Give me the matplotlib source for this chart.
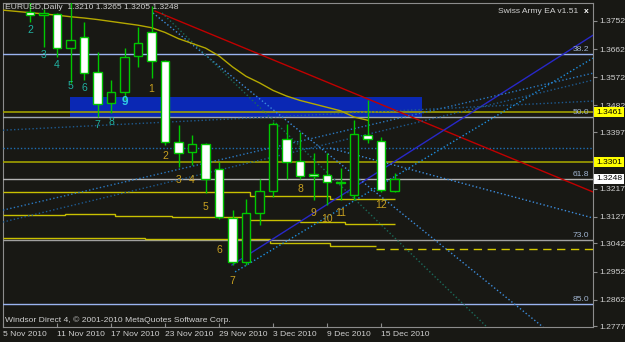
import numpy as np
import matplotlib.pyplot as plt
from matplotlib import transforms

plt.rcParams.update({
    "font.family": "Liberation Sans",
    "font.size": 6.1,
})

bg = "#181814"
frame = "#8c8c8c"
txt = "#d0d0d0"

# daily bars, index 0 = 5 Nov 2010 (weekdays only)
bars = list(range(2, 30))
opens = [1.3780, 1.3770, 1.3774, 1.3665, 1.3700, 1.3589, 1.3490, 1.3525, 1.3640, 1.3716,
         1.3624, 1.3365, 1.3334, 1.3359, 1.3279, 1.3123, 1.2983, 1.3139, 1.3209, 1.3375,
         1.3305, 1.3262, 1.3260, 1.3237, 1.3196, 1.3388, 1.3368, 1.3210]
highs = [1.3815, 1.3790, 1.3776, 1.3815, 1.3748, 1.3653, 1.3563, 1.3665, 1.3732, 1.3798,
         1.3626, 1.3420, 1.3388, 1.3362, 1.3302, 1.3148, 1.3183, 1.3248, 1.3429, 1.3423,
         1.3397, 1.3330, 1.3330, 1.3283, 1.3436, 1.3499, 1.3381, 1.3265]
lows = [1.3748, 1.3668, 1.3637, 1.3554, 1.3563, 1.3445, 1.3458, 1.3499, 1.3605, 1.3570,
        1.3356, 1.3286, 1.3292, 1.3203, 1.3120, 1.2973, 1.2973, 1.3100, 1.3190, 1.3248,
        1.3248, 1.3180, 1.3164, 1.3180, 1.3180, 1.3362, 1.3206, 1.3205]
closes = [1.3770, 1.3777, 1.3665, 1.3691, 1.3586, 1.3487, 1.3525, 1.3637, 1.3681, 1.3624,
          1.3365, 1.3330, 1.3359, 1.3248, 1.3126, 1.2983, 1.3139, 1.3209, 1.3423, 1.3302,
          1.3257, 1.3258, 1.3238, 1.3233, 1.3391, 1.3375, 1.3212, 1.3248]

# moving average
ma_bars = list(range(0, 28))
ma_vals = [1.3786, 1.3782, 1.3778, 1.3774, 1.3770, 1.3765, 1.3761, 1.3756, 1.3750, 1.3744,
           1.3738, 1.3730, 1.3715, 1.3695, 1.3680, 1.3665, 1.3640, 1.3605, 1.3575, 1.3554,
           1.3530, 1.3512, 1.3498, 1.3487, 1.3476, 1.3465, 1.3445, 1.3435]

# wave counts
teal_lbl = ["2", "3", "4", "5", "6", "7", "8"]
teal_x = [2, 3, 4, 5, 6, 7, 8]
teal_y = [1.3723, 1.3643, 1.3611, 1.3544, 1.3538, 1.3420, 1.3429]
gold_lbl = ["1", "2", "3", "4", "5", "6", "7", "8", "9", "10", "11", "12"]
gold_x = [11, 12, 13, 14, 15, 16, 17, 22, 23, 24, 25, 28]
gold_y = [1.3534, 1.3321, 1.3244, 1.3244, 1.3158, 1.3021, 1.2922, 1.3215, 1.3139, 1.3120,
          1.3139, 1.3164]

# fib levels
fib_names = ["38.2", "50.0", "61.8", "73.0", "85.0"]
fib_prices = [1.3646, 1.3445, 1.3248, 1.3053, 1.2848]
fib_colors = ["#9ab4f0", "#a0a8b0", "#b4b4b4", "#a0a0a0", "#9ab4f0"]

# trend lines (bar, price) pairs
trend_lines = [
    ((11.26, 43.70), (1.3783, 1.3206), "#c00000", "-"),
    ((16.96, 43.70), (1.2973, 1.3706), "#2828c8", "-"),
    ((17.19, 43.70), (1.2951, 1.3633), "#1e90e0", ":"),
    ((0.0, 43.70), (1.3148, 1.3585), "#2a78c0", ":"),
    ((0.0, 43.70), (1.3110, 1.3563), "#1e5a90", ":"),
    ((0.0, 43.70), (1.3403, 1.3496), "#1e5a90", ":"),
    ((11.11, 40.0), (1.3777, 1.2775), "#3c8cdc", ":"),
    ((11.78, 35.85), (1.3777, 1.2775), "#1a6a5a", ":"),
    ((24.22, 43.70), (1.3346, 1.3123), "#3c8cdc", ":"),
]

# stepped yellow levels: (x edges, prices)
step_a_x = [0, 18.3, 24.2, 29.0]
step_a_y = [1.3206, 1.3193, 1.3184]
step_b_x = [0, 4.6, 8.3, 12.5, 17.9, 22.0, 25.3, 29.0]
step_b_y = [1.3132, 1.3136, 1.3129, 1.3126, 1.3116, 1.3110, 1.3104]
step_c_x = [0, 8.7, 10.5, 19.8, 24.2, 27.6]
step_c_y = [1.3058, 1.3059, 1.3056, 1.3043, 1.3034]

y_ticks = [1.3752, 1.3662, 1.3572, 1.3482, 1.3397, 1.3217, 1.3127, 1.3042, 1.2952, 1.2862, 1.2777]
x_ticks = [0, 4, 8, 12, 16, 20, 24, 28]
x_labels = ["5 Nov 2010", "11 Nov 2010", "17 Nov 2010", "23 Nov 2010", "29 Nov 2010",
            "3 Dec 2010", "9 Dec 2010", "15 Dec 2010"]

fig = plt.figure(figsize=(6.25, 3.42), dpi=100, facecolor=bg)
ax = fig.add_axes([3 / 625, 15 / 342, 590 / 625, 324 / 342], facecolor=bg)
ax.set_xlim(0, 43.70)
ax.set_ylim(1.27752, 1.38088)

# zone box
ax.fill_between([4.96, 31.0], 1.3445, 1.3509, color="#0a28b4", lw=0, zorder=1)

# horizontal lines
for p, c in zip(fib_prices, fib_colors):
    ax.axhline(p, color=c, lw=1, zorder=3)
ax.axhline(1.3461, color="#a0a000", lw=1.2, zorder=3)
ax.axhline(1.3301, color="#a0a000", lw=1.2, zorder=3)
ax.axhline(1.3346, color="#1e6eb4", lw=1, ls=(0, (1, 1.5)), zorder=3)
ax.plot([27.6, 43.7], [1.3024, 1.3024], color="#d4c800", lw=1, ls=(0, (6, 4)), zorder=3)

for sx, sy in [(step_a_x, step_a_y), (step_b_x, step_b_y), (step_c_x, step_c_y)]:
    ax.stairs(sy, sx, color="#c8c000", lw=1, baseline=None, zorder=3)

for (x0, x1), (y0, y1), c, ls in trend_lines:
    ax.plot([x0, x1], [y0, y1], color=c, lw=1, ls=ls, zorder=4)

ax.plot(ma_bars, ma_vals, color="#b4a800", lw=1, zorder=4)

# candles
o = np.array(opens)
c = np.array(closes)
bull = c >= o
ax.vlines(bars, lows, highs, color="#00c800", lw=1, zorder=5)
ax.bar(bars, np.abs(c - o), bottom=np.minimum(o, c), width=0.6,
       color=np.where(bull, bg, "white"), edgecolor="#00c800", lw=1, zorder=6)

for s, x, y in zip(teal_lbl, teal_x, teal_y):
    ax.text(x, y, s, color="#20b0a0", ha="center", va="center", fontsize=7.5, zorder=7)
ax.text(9, 1.3493, "9", color="#30c8e8", ha="center", va="center", fontsize=8.5,
        fontweight="bold", zorder=7)
for s, x, y in zip(gold_lbl, gold_x, gold_y):
    ax.text(x, y, s, color="#c8a020", ha="center", va="center", fontsize=7.5, zorder=7)

# axis styling
ax.yaxis.tick_right()
ax.set_yticks(y_ticks)
ax.set_yticklabels([f"{v:.4f}" for v in y_ticks])
ax.set_xticks(x_ticks)
ax.set_xticklabels(x_labels, ha="left")
ax.tick_params(axis="y", colors=frame, labelcolor=txt, length=3, pad=1.5, labelsize=6.1)
ax.tick_params(axis="x", colors=frame, labelcolor=txt, length=3, direction="in",
               pad=3, labelsize=6.1)
for sp in ax.spines.values():
    sp.set_color(frame)

trans = transforms.blended_transform_factory(ax.transAxes, ax.transData)
for p, fc in [(1.3461, "#ffff00"), (1.3301, "#ffff00"), (1.3248, "white")]:
    ax.text(1.005, p, f"{p:.4f}", transform=trans, ha="left", va="center", fontsize=6.1,
            color="black", bbox=dict(boxstyle="square,pad=0.2", fc=fc, ec="none"),
            clip_on=False, zorder=10)
for n, p in zip(fib_names, fib_prices):
    ax.text(0.994, p + 0.0003, n, transform=trans, ha="right", va="bottom",
            color="#a0b4d0", fontsize=6.1, zorder=8)

ax.text(0.004, 0.985, "EURUSD,Daily  1.3210 1.3265 1.3205 1.3248", transform=ax.transAxes,
        color=txt, va="center", ha="left", fontsize=6.1, zorder=9)
ax.text(0.975, 0.975, "Swiss Army EA v1.51", transform=ax.transAxes, color=txt,
        va="center", ha="right", fontsize=6.1, zorder=9)
ax.text(0.992, 0.975, "x", transform=ax.transAxes, color="white", fontweight="bold",
        va="center", ha="right", fontsize=6.1, zorder=9)
ax.text(0.004, 0.022, "Windsor Direct 4, \u00a9 2001-2010 MetaQuotes Software Corp.",
        transform=ax.transAxes, color=txt, va="center", ha="left", fontsize=6.1, zorder=9)

fig.savefig("out.png", dpi=100, facecolor=bg)
